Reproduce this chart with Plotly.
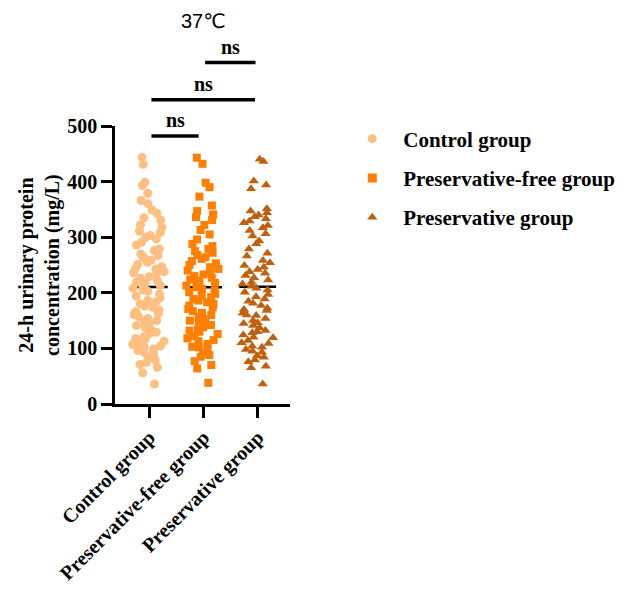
import numpy as np
import plotly.graph_objects as go

groups = ["Control group", "Preservative-free group", "Preservative group"]
colors = ["#FFBF80", "#FF7F00", "#C0600F"]
symbols = ["circle", "square", "triangle-up"]

control = [444, 431, 399, 393, 379, 366, 360, 349, 343, 335, 331, 322, 318, 311, 309,
           303, 300, 297, 291, 286, 279, 276, 270, 267, 264, 259, 255, 251, 247, 244,
           243, 238, 236, 233, 229, 226, 222, 219, 217, 213, 211, 208, 205, 203, 198,
           194, 191, 186, 184, 180, 176, 174, 169, 166, 163, 161, 157, 154, 150, 148,
           144, 141, 138, 133, 129, 126, 121, 118, 117, 113, 111, 107, 104, 103, 99,
           96, 92, 90, 84, 79, 75, 71, 66, 56, 36]
pres_free = [443, 432, 398, 390, 373, 357, 347, 341, 336, 331, 322, 313, 305, 296, 288,
             284, 279, 275, 272, 268, 264, 261, 257, 253, 250, 246, 243, 240, 237, 233,
             230, 227, 224, 221, 218, 216, 213, 210, 207, 204, 201, 198, 195, 192, 189,
             186, 183, 180, 177, 174, 171, 167, 164, 160, 157, 153, 150, 148, 146, 142,
             138, 134, 132, 130, 126, 122, 118, 115, 113, 108, 103, 102, 98, 92, 88,
             85, 77, 70, 64, 38]
pres = [440, 436, 401, 394, 387, 351, 347, 344, 340, 337, 333, 329, 326, 321, 317,
        312, 306, 302, 293, 288, 279, 271, 266, 258, 254, 249, 246, 242, 238, 235,
        231, 227, 223, 219, 216, 212, 208, 205, 201, 197, 193, 189, 185, 181, 177,
        172, 170, 168, 163, 160, 159, 154, 150, 146, 145, 141, 137, 132, 130, 128,
        124, 120, 119, 114, 110, 109, 104, 102, 98, 95, 93, 87, 84, 79, 76,
        68, 65, 36]
values = [control, pres_free, pres]

# comparisons: (from group, to group, bar height in mg/L units)
comparisons = [(0, 1, 482), (0, 2, 547), (1, 2, 614)]

XMIN, XMAX = -0.632, 2.596
YMIN, YMAX = 0, 500

def xpaper(x):
    return (x - XMIN) / (XMAX - XMIN)

def ypaper(y):
    return (y - YMIN) / (YMAX - YMIN)

serif = dict(family="Liberation Serif, Times New Roman, serif", size=20,
             color="black", weight="bold")

fig = go.Figure()
for i, (name, vals) in enumerate(zip(groups, values)):
    fig.add_trace(go.Box(
        y=vals, x0=i, width=0.64, name=name,
        boxpoints="all", jitter=1, pointpos=0,
        fillcolor="rgba(0,0,0,0)", line=dict(width=0, color="rgba(0,0,0,0)"),
        marker=dict(symbol=symbols[i], size=9 if i != 1 else 8, color=colors[i],
                    line=dict(width=0)),
        hoveron="points", showlegend=False))
    # legend entry
    fig.add_trace(go.Scatter(
        x=[None], y=[None], mode="markers", name=name, legendgroup=name,
        marker=dict(symbol=symbols[i], size=9, color=colors[i])))
    # mean line
    m = float(np.mean(vals))
    fig.add_shape(type="line", xref="x", yref="y", x0=i - 0.34, x1=i + 0.34,
                  y0=m, y1=m, line=dict(color="black", width=2.5), layer="below")

for a, b, h in comparisons:
    x0 = a + 0.04
    x1 = b - 0.05 if b - a > 1 else b - 0.09
    if a == 1:
        x0 = a + 0.03
        x1 = b - 0.04
    fig.add_shape(type="line", xref="paper", yref="paper",
                  x0=xpaper(x0), x1=xpaper(x1), y0=ypaper(h), y1=ypaper(h),
                  line=dict(color="black", width=3.5))
    fig.add_annotation(x=xpaper((x0 + x1) / 2), y=ypaper(h), xref="paper", yref="paper",
                       text="ns", showarrow=False, xanchor="center", yanchor="bottom",
                       yshift=3, font=serif)

fig.add_annotation(x=xpaper(1.0), y=ypaper(688), xref="paper", yref="paper",
                   text="37℃", showarrow=False, xanchor="center", yanchor="middle",
                   font=dict(family="Liberation Sans, Arial, DejaVu Sans", size=20,
                             color="black"))

fig.add_annotation(x=-0.435, y=0.5, xref="paper", yref="paper",
                   text="24-h urinary protein<br>concentration (mg/L)",
                   textangle=-90, showarrow=False, xanchor="center", yanchor="middle",
                   font=serif)

fig.update_layout(
    width=624, height=589,
    margin=dict(l=107, r=333, t=118, b=187),
    paper_bgcolor="white", plot_bgcolor="white",
    boxmode="overlay",
    showlegend=True,
    legend=dict(x=1.293, y=1.027, xanchor="left", yanchor="top",
                traceorder="grouped", tracegroupgap=9, itemwidth=52,
                font=dict(family="Liberation Serif, Times New Roman, serif",
                          size=21, color="black", weight="bold")),
    xaxis=dict(type="linear", range=[XMIN, XMAX], tickvals=[0, 1, 2], ticktext=groups,
               tickangle=-45, ticks="outside", ticklen=11, tickwidth=2.5,
               showline=True, linewidth=2.5, linecolor="black", tickcolor="black",
               showgrid=False, zeroline=False, tickfont=serif),
    yaxis=dict(range=[YMIN, YMAX], tickvals=[0, 100, 200, 300, 400, 500],
               ticks="outside", ticklen=11, tickwidth=2.5,
               showline=True, linewidth=2.5, linecolor="black", tickcolor="black",
               showgrid=False, zeroline=False, tickfont=serif),
)

fig.write_html("out.html")
